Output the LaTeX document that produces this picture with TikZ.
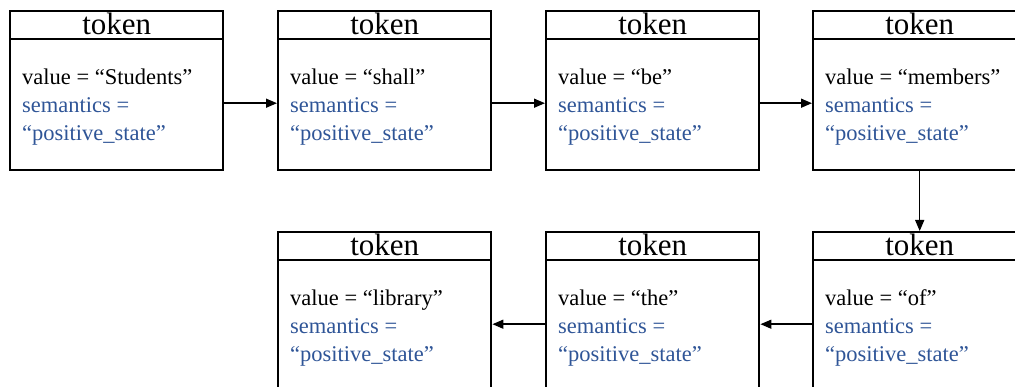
\documentclass[tikz,border=0pt]{standalone}
\usepackage{fontspec}
\setmainfont{Liberation Serif}
\usetikzlibrary{arrows.meta,calc}
\definecolor{semblue}{HTML}{2F5597}
\begin{document}
\begin{tikzpicture}[x=1pt,y=-1pt,
  tokbox/.style={draw,line width=2.4pt,minimum width=213pt,minimum height=159pt,anchor=north west,inner sep=0pt},
  hdr/.style={anchor=base,font=\fontsize{31}{34}\selectfont},
  txt/.style={anchor=base west,inner sep=0pt,font=\fontsize{22.5}{27}\selectfont},
  sem/.style={txt,text=semblue},
  conn/.style={line width=1.4pt,-{Triangle[length=11pt,width=9pt]}}]
\useasboundingbox (0,0) rectangle (1015,387);
\clip (0,0) rectangle (1015,387);
\newcommand{\tokenbox}[4]{%
  \node[tokbox] (#1) at (#2,#3) {};
  \draw[line width=2.4pt] ($(#1.north west)+(0,29)$) coordinate (#1hl) -- ($(#1.north east)+(0,29)$) coordinate (#1hr);
  \node[hdr] (#1h) at ($(#1.north)+(0,25)$) {token};
  \node[txt] (#1v) at ($(#1.north west)+(13,75)$) {value = #4};
  \node[sem] (#1s) at ($(#1.north west)+(13,103)$) {semantics =};
  \node[sem] (#1p) at ($(#1.north west)+(13,131)$) {“positive\_state”};
}
\tokenbox{b1}{9}{10}{“Students”}
\tokenbox{b2}{277}{10}{“shall”}
\tokenbox{b3}{545}{10}{“be”}
\tokenbox{b4}{812}{10}{“members”}
\tokenbox{b5}{812}{231}{“of”}
\tokenbox{b6}{545}{231}{“the”}
\tokenbox{b7}{277}{231}{“library”}
\draw[conn] ($(b1.east)+(0,12.5)$) -- ($(b2.west)+(0,12.5)$);
\draw[conn] ($(b2.east)+(0,12.5)$) -- ($(b3.west)+(0,12.5)$);
\draw[conn] ($(b3.east)+(0,12.5)$) -- ($(b4.west)+(0,12.5)$);
\draw[conn] (b4.south) -- (b5.north);
\draw[conn] ($(b5.west)+(0,12.5)$) -- ($(b6.east)+(0,12.5)$);
\draw[conn] ($(b6.west)+(0,12.5)$) -- ($(b7.east)+(0,12.5)$);
\end{tikzpicture}
\end{document}
